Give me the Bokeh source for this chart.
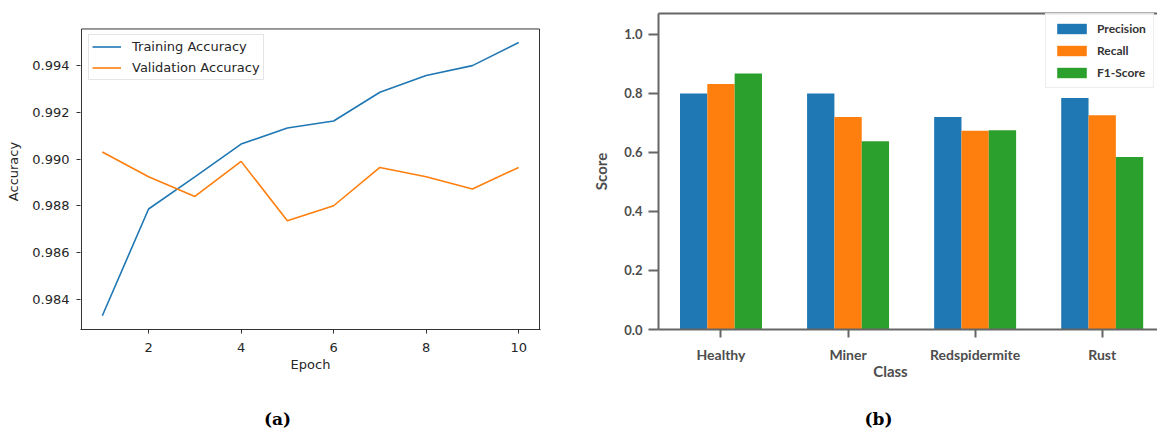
from bokeh.plotting import figure
from bokeh.models import (Range1d, FixedTicker, PrintfTickFormatter, Legend, LegendItem,
                          LinearAxis, ColumnDataSource)
from bokeh.layouts import row
from bokeh.transform import dodge
from bokeh.embed import file_html
from bokeh.resources import INLINE

# ---------------- data ----------------
epochs = [1, 2, 3, 4, 5, 6, 7, 8, 9, 10]
train_acc = [0.98329, 0.98786, 0.98924, 0.99064, 0.99133, 0.99163, 0.99286, 0.99358, 0.99400, 0.99499]
val_acc = [0.99030, 0.98924, 0.98840, 0.98990, 0.98736, 0.98800, 0.98964, 0.98924, 0.98872, 0.98964]
acc_ticks = [0.984, 0.986, 0.988, 0.990, 0.992, 0.994]
epoch_ticks = [2, 4, 6, 8, 10]

classes = ["Healthy", "Miner", "Redspidermite", "Rust"]
metric_names = ["Precision", "Recall", "F1-Score"]
precision = [0.800, 0.800, 0.720, 0.785]
recall = [0.832, 0.720, 0.674, 0.726]
f1_score = [0.868, 0.638, 0.675, 0.585]
score_ticks = [0.0, 0.2, 0.4, 0.6, 0.8, 1.0]

H = 434
TOP = 13
BOT = 105

# ---------------- panel (a) ----------------
TXT = "#262626"
ACC_LO, ACC_HI = 0.98270, 0.99557   # visible axes box of panel (a)
EP_LO, EP_HI = 0.55, 10.45
p1 = figure(width=578, height=H, output_backend="svg", toolbar_location=None,
            x_range=Range1d(0.5284, 10.4716), y_range=Range1d(ACC_LO, 0.996233),
            min_border_left=80, min_border_right=38, min_border_top=TOP, min_border_bottom=BOT)
p1.grid.visible = False
p1.outline_line_color = None

# the axes box of panel (a)
p1.line(x=[EP_LO, EP_LO, EP_HI, EP_HI, EP_LO], y=[ACC_LO, ACC_HI, ACC_HI, ACC_LO, ACC_LO],
        line_color="#333333", line_width=1)

r_tr = p1.line(epochs, train_acc, line_color="#1f77b4", line_width=1.6)
r_va = p1.line(epochs, val_acc, line_color="#ff7f0e", line_width=1.6)

for ax in (p1.xaxis[0], p1.yaxis[0]):
    ax.major_tick_line_color = "#333333"
    ax.major_tick_out = 4
    ax.major_tick_in = 0
    ax.minor_tick_line_color = None
    ax.major_label_text_font = "DejaVu Sans"
    ax.major_label_text_font_size = "13px"
    ax.major_label_text_color = TXT
    ax.axis_label_text_font = "DejaVu Sans"
    ax.axis_label_text_font_size = "13px"
    ax.axis_label_text_font_style = "normal"
    ax.axis_label_text_color = TXT

p1.xaxis.axis_line_color = "#333333"
p1.yaxis.axis_line_color = None
p1.xaxis.ticker = FixedTicker(ticks=epoch_ticks)
p1.xaxis.axis_label = "Epoch"
p1.xaxis.major_label_standoff = 9
p1.xaxis.axis_label_standoff = 2
p1.yaxis.ticker = FixedTicker(ticks=acc_ticks)
p1.yaxis.formatter = PrintfTickFormatter(format="%.3f")
p1.yaxis.axis_label = "Accuracy"
p1.yaxis.major_label_standoff = 7
p1.yaxis.axis_label_standoff = 8

leg1 = Legend(items=[LegendItem(label="Training Accuracy", renderers=[r_tr]),
                     LegendItem(label="Validation Accuracy", renderers=[r_va])],
              location=(8, 249), padding=3, spacing=4, margin=0,
              glyph_width=29, glyph_height=17, label_height=17, label_standoff=11,
              label_text_font="DejaVu Sans", label_text_font_size="13px",
              label_text_color=TXT, border_line_color="#cccccc", border_line_width=1,
              background_fill_alpha=0.8)
p1.add_layout(leg1)

# caption (a) as a label-only axis under the plot
p1.extra_x_ranges = {"cap": Range1d(0, 460)}
cap_a = LinearAxis(x_range_name="cap", ticker=FixedTicker(ticks=[197]),
                   major_label_overrides={197: "(a)"}, axis_line_color=None,
                   major_tick_line_color=None, minor_tick_line_color=None,
                   major_tick_out=0, minor_tick_out=0, major_label_standoff=34,
                   major_label_text_font="DejaVu Serif", major_label_text_font_size="17px",
                   major_label_text_font_style="bold", major_label_text_color="black")
p1.add_layout(cap_a, "below")

# ---------------- panel (b) ----------------
GR = "#666666"
TX2 = "#4d4d4d"
p2 = figure(width=579, height=H, output_backend="svg", toolbar_location=None,
            x_range=Range1d(-0.4918, 3.4352), y_range=Range1d(0, 1.071),
            min_border_left=80, min_border_right=0, min_border_top=TOP, min_border_bottom=BOT)
p2.grid.visible = False
p2.outline_line_color = None

src = ColumnDataSource(dict(x=list(range(len(classes))), Precision=precision,
                            Recall=recall, F1=f1_score))
bar_w = 0.215
cols = ["#1f77b4", "#ff7f0e", "#2ca02c"]
fields = ["Precision", "Recall", "F1"]
offs = [-bar_w, 0.0, bar_w]
bars = []
for fld, c, o in zip(fields, cols, offs):
    bars.append(p2.vbar(x=dodge("x", o), top=fld, width=bar_w, source=src,
                        fill_color=c, line_color=None))

for ax in (p2.xaxis[0], p2.yaxis[0]):
    ax.axis_line_color = GR
    ax.axis_line_width = 2
    ax.major_tick_line_color = GR
    ax.major_tick_line_width = 2
    ax.major_tick_in = 0
    ax.minor_tick_line_color = None
    ax.major_label_text_font = "Lato"
    ax.major_label_text_font_style = "bold"
    ax.major_label_text_color = TX2
    ax.axis_label_text_font = "Lato"
    ax.axis_label_text_font_size = "15px"
    ax.axis_label_text_font_style = "bold"
    ax.axis_label_text_color = TX2

p2.yaxis.ticker = FixedTicker(ticks=score_ticks)
p2.yaxis.formatter = PrintfTickFormatter(format="%.1f")
p2.yaxis.major_label_text_font_size = "13px"
p2.yaxis.major_tick_out = 10
p2.yaxis.major_label_standoff = 6
p2.yaxis.axis_label = "Score"
p2.yaxis.axis_label_standoff = 11

xax2 = p2.xaxis[0]
xax2.ticker = FixedTicker(ticks=list(range(len(classes))))
xax2.major_label_overrides = {i: c for i, c in enumerate(classes)}
xax2.major_label_text_font_size = "14px"
xax2.major_tick_out = 8
xax2.major_label_standoff = 8

top_spine = LinearAxis(ticker=FixedTicker(ticks=[]), axis_line_color=GR, axis_line_width=2,
                       major_tick_line_color=None, minor_tick_line_color=None,
                       major_tick_out=0, minor_tick_out=0, major_label_standoff=0,
                       major_label_text_font_size="0px")
p2.add_layout(top_spine, "above")

leg2 = Legend(items=[LegendItem(label=n, renderers=[b]) for n, b in zip(metric_names, bars)],
              location=(387, 241), padding=7, spacing=7, margin=0,
              glyph_width=37, glyph_height=13, label_height=13, label_standoff=7,
              label_text_font="Lato", label_text_font_size="12px", label_text_font_style="bold",
              label_text_color="#333333", border_line_color="#dddddd", border_line_width=1,
              background_fill_alpha=0.8)
p2.add_layout(leg2)

# x-axis title "Class" (placed like the reference, a little left of centre)
p2.extra_x_ranges = {"cap": Range1d(0, 499)}
class_title = LinearAxis(x_range_name="cap", ticker=FixedTicker(ticks=[232]),
                         major_label_overrides={232: "Class"}, axis_line_color=None,
                         major_tick_line_color=None, minor_tick_line_color=None,
                         major_tick_out=0, minor_tick_out=0, major_label_standoff=-4,
                         major_label_text_font="Lato", major_label_text_font_size="15px",
                         major_label_text_font_style="bold", major_label_text_color=TX2)
p2.add_layout(class_title, "below")

cap_b = LinearAxis(x_range_name="cap", ticker=FixedTicker(ticks=[220]),
                   major_label_overrides={220: "(b)"}, axis_line_color=None,
                   major_tick_line_color=None, minor_tick_line_color=None,
                   major_tick_out=0, minor_tick_out=0, major_label_standoff=26,
                   major_label_text_font="DejaVu Serif", major_label_text_font_size="17px",
                   major_label_text_font_style="bold", major_label_text_color="black")
p2.add_layout(cap_b, "below")

layout = row(p1, p2)
open("out.html", "w").write(file_html(layout, INLINE))
